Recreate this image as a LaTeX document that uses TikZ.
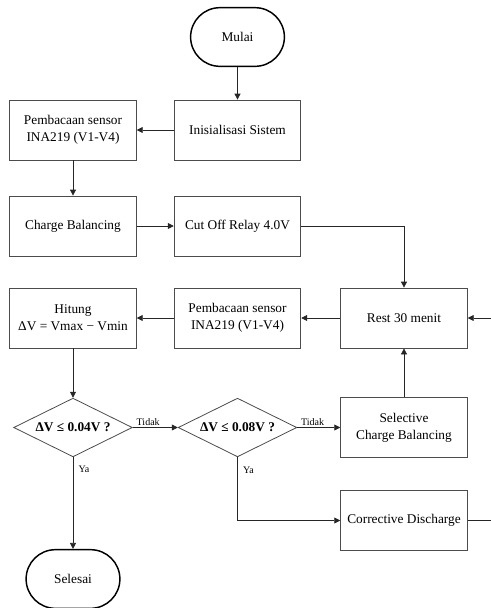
\documentclass[tikz,border=0pt]{standalone}
\usepackage{fontspec}
\setmainfont{Liberation Serif}
\usetikzlibrary{shapes.misc, shapes.geometric, arrows.meta}

\begin{document}
\begin{tikzpicture}[x=0.75pt, y=-0.75pt,
    font=\fontsize{10}{12.5}\selectfont,
    terminal/.style={rounded rectangle, draw, line width=1.1pt, minimum width=77pt, minimum height=44pt},
    process/.style={rectangle, draw=black!70, line width=0.6pt, minimum width=95pt, minimum height=45pt, align=center},
    decision/.style={diamond, draw=black!70, line width=0.6pt, aspect=2, inner sep=0pt, minimum width=89pt, minimum height=44pt, font=\fontsize{10}{12}\selectfont\bfseries},
    arr/.style={-{Triangle[length=4.5pt, width=4.5pt]}, line width=0.6pt, draw=black!85},
    lbl/.style={font=\fontsize{7.5}{8}\selectfont, inner sep=1pt}]

      \clip (0,0) rectangle (491,608);

      \node[terminal] (mulai) at (237.5,37) {Mulai};
      \node[process] (init) at (237.5,130) {Inisialisasi Sistem};
      \node[process] (baca1) at (73,130) {Pembacaan sensor\\INA219 (V1-V4)};

      \node[process] (cb) at (73,226) {Charge Balancing};
      \node[process] (cut) at (237.5,226) {Cut Off Relay 4.0V};

      \node[process] (hitung) at (73,318) {Hitung\\ΔV = Vmax − Vmin};
      \node[process] (baca2) at (237.5,318) {Pembacaan sensor\\INA219 (V1-V4)};
      \node[process] (rest) at (404,318) {Rest 30 menit};

      \node[decision] (cek1) at (73,427.5) {ΔV ≤ 0.04V ?};
      \node[decision] (cek2) at (237.5,427.5) {ΔV ≤ 0.08V ?};
      \node[process] (scb) at (404,427.5) {Selective\\Charge Balancing};

      \node[process] (cd) at (404,520.5) {Corrective Discharge};
      \node[terminal] (selesai) at (73,579) {Selesai};

      \coordinate (loop) at (500,318);

      \draw[arr] (mulai) -- (init);
      \draw[arr] (init) -- (baca1);
      \draw[arr] (baca1) -- (cb);
      \draw[arr] (cb) -- (cut);
      \draw[arr] (cut.east) -| (rest.north);
      \draw[arr] (rest) -- (baca2);
      \draw[arr] (baca2) -- (hitung);
      \draw[arr] (hitung) -- (cek1);

      \draw[arr] (cek1.east) -- node[lbl, pos=0.05, anchor=south west] {Tidak} (cek2.west);
      \draw[arr] (cek2.east) -- node[lbl, pos=0.05, anchor=south west] {Tidak} (scb.west);
      \draw[arr] (scb) -- (rest);

      \draw[arr] (cek1.south) -- node[lbl, pos=0.13, anchor=west, xshift=3pt] {Ya} (selesai.north);
      \draw[arr] (cek2.south) |- node[lbl, pos=0.1, anchor=west, xshift=3pt] {Ya} (cd.west);

      % loop back from the discharge step
      \draw[arr] (cd.east) -| (loop) -- (rest.east);
    \end{tikzpicture}
\end{document}
